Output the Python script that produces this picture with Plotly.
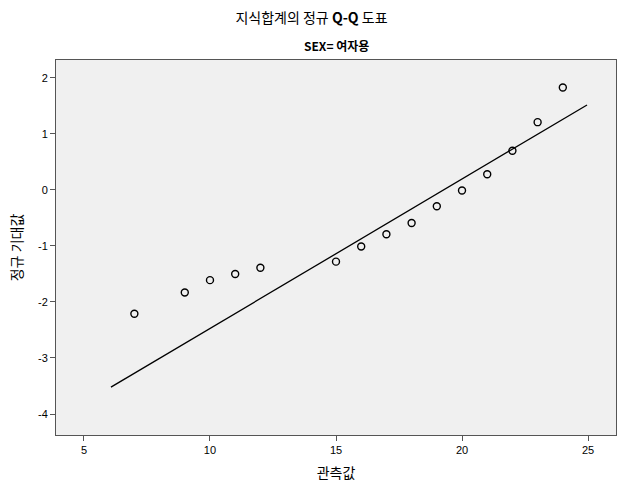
import plotly.graph_objects as go

# 관측값 / 정규 기대값
observed = [7, 9, 10, 11, 12, 15, 16, 17, 18, 19, 20, 21, 22, 23, 24]
expected = [-2.21, -1.83, -1.61, -1.50, -1.39, -1.28, -1.01, -0.79, -0.59, -0.29, -0.01, 0.28, 0.70, 1.21, 1.83]

x_ticks = [5, 10, 15, 20, 25]
y_ticks = [-4, -3, -2, -1, 0, 1, 2]

# reference line (mean, sd of normal)
ref_mean = 19.27
ref_sd = 3.75
ref_x = [6.07, 24.96]
ref_y = [(x - ref_mean) / ref_sd for x in ref_x]

kfont = "Noto Sans CJK KR"
tfont = "Liberation Sans, Arial"

fig = go.Figure()
fig.add_trace(go.Scatter(x=ref_x, y=ref_y, mode="lines",
                         line=dict(color="black", width=1.3), hoverinfo="skip"))
fig.add_trace(go.Scatter(x=observed, y=expected, mode="markers",
                         marker=dict(symbol="circle-open", size=7, color="black",
                                     line=dict(width=1.4))))

fig.update_layout(
    width=623, height=494,
    margin=dict(l=56, r=7, t=60, b=59, autoexpand=False),
    paper_bgcolor="white", plot_bgcolor="#f0f0f0",
    showlegend=False,
    title=dict(text="지식합계의 정규 <b>Q-Q</b> 도표", x=0.5, xanchor="center",
               y=1 - 18 / 494, yanchor="middle", font=dict(family=kfont, size=14, color="black")),
    annotations=[dict(text="<b>SEX= 여자용</b>", xref="paper", yref="paper",
                      x=0.5, y=1.0, yshift=15, yanchor="middle", showarrow=False,
                      font=dict(family=kfont, size=12, color="black"))],
    xaxis=dict(range=[3.89, 26.11], tickvals=x_ticks, ticktext=[str(v) for v in x_ticks],
               showgrid=False, automargin=False,
               zeroline=False, showline=True, mirror=True, linecolor="#555", linewidth=1,
               ticks="outside", ticklen=5, tickcolor="#555",
               tickfont=dict(family=tfont, size=11, color="black"),
               title=dict(text="관측값", standoff=12,
                          font=dict(family=kfont, size=14, color="black"))),
    yaxis=dict(range=[-4.375, 2.32], tickvals=y_ticks, ticktext=[str(v) for v in y_ticks],
               showgrid=False, automargin=False,
               zeroline=False, showline=True, mirror=True, linecolor="#555", linewidth=1,
               ticks="outside", ticklen=5, tickcolor="#555",
               tickfont=dict(family=tfont, size=11, color="black"),
               title=dict(text="정규 기대값", standoff=12,
                          font=dict(family=kfont, size=14, color="black"))),
)

# page has a default 8px body margin; drop it so the figure sits at 0,0
fig.write_html("out.html", config={"displayModeBar": False},
               post_script="document.body.style.margin='0';")
